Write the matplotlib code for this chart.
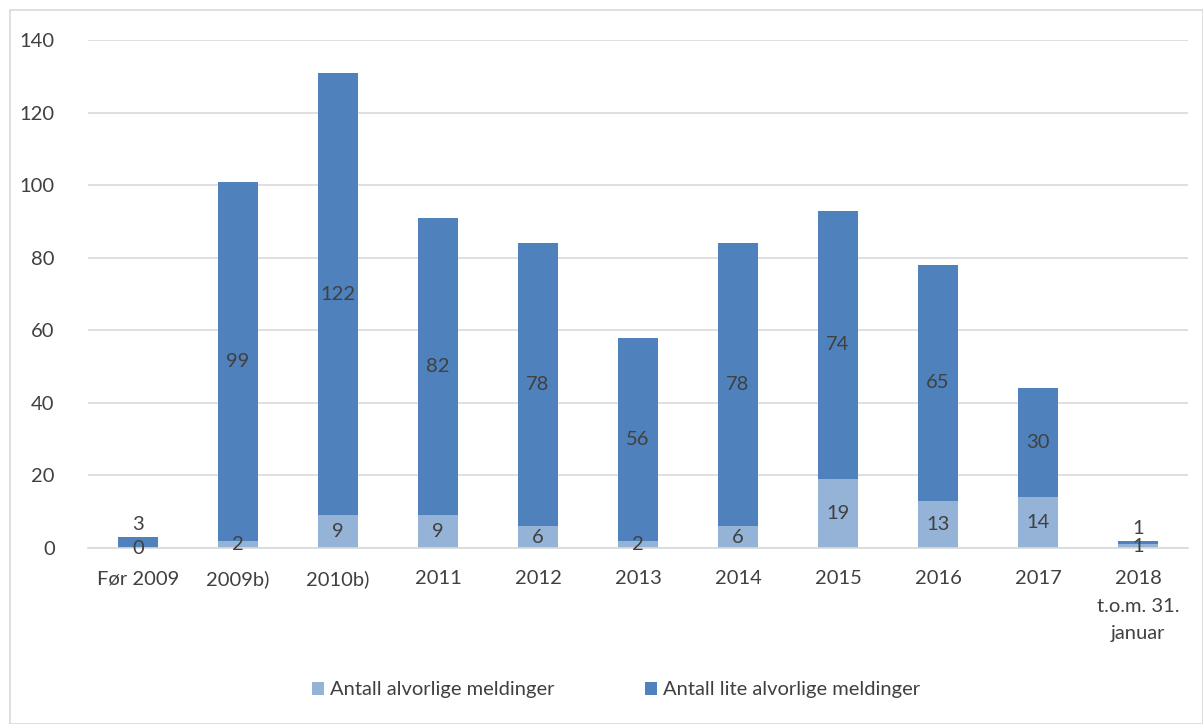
import matplotlib.pyplot as plt
from matplotlib.patches import Rectangle

plt.rcParams['font.family'] = ['Lato', 'DejaVu Sans']

categories = ["Før 2009", "2009b)", "2010b)", "2011", "2012", "2013", "2014",
              "2015", "2016", "2017", "2018\nt.o.m. 31.\njanuar"]
alvorlige = [0, 2, 9, 9, 6, 2, 6, 19, 13, 14, 1]
lite_alvorlige = [3, 99, 122, 82, 78, 56, 78, 74, 65, 30, 1]

light = '#95B3D7'
dark = '#4F81BD'
txt = '#404040'
fs = 14.5

fig = plt.figure(figsize=(12.03, 7.24), dpi=100)
ax = fig.add_axes([88/1203, 1-548/724, 1100/1203, 508/724])

x = range(len(categories))
ax.bar(x, alvorlige, width=0.4, color=light, label='Antall alvorlige meldinger', zorder=2)
ax.bar(x, lite_alvorlige, width=0.4, bottom=alvorlige, color=dark,
       label='Antall lite alvorlige meldinger', zorder=2)

for i in x:
    a = alvorlige[i]
    l = lite_alvorlige[i]
    ax.text(i, a/2, str(a), ha='center', va='center', fontsize=fs, color=txt, zorder=3)
    if l < 5:
        ax.text(i, a + l + 1, str(l), ha='center', va='bottom', fontsize=fs, color=txt, zorder=3)
    else:
        ax.text(i, a + l/2, str(l), ha='center', va='center', fontsize=fs, color=txt, zorder=3)

ax.set_xlim(-0.5, len(categories) - 0.5)
ax.set_ylim(0, 140)
ax.set_yticks(range(0, 141, 20))
ax.set_xticks(list(x))
ax.set_xticklabels(categories, linespacing=1.75)
ax.yaxis.grid(True, color='#D9D9D9', linewidth=1.2, zorder=0)
ax.set_axisbelow(True)
for s in ['top', 'right', 'left']:
    ax.spines[s].set_visible(False)
ax.spines['bottom'].set_color('#D9D9D9')
ax.spines['bottom'].set_linewidth(1.2)
ax.tick_params(axis='both', length=0, labelsize=fs, labelcolor=txt)
ax.tick_params(axis='x', pad=16)
ax.tick_params(axis='y', pad=24)

ax.legend(loc='center', bbox_to_anchor=(0.512, 1-690/724), bbox_transform=fig.transFigure,
          ncol=2, frameon=False, fontsize=fs, labelcolor=txt, handlelength=0.6,
          handleheight=0.6, handletextpad=0.3, columnspacing=4.5)

fig.patches.append(Rectangle((10/1203, 0), 1-10/1203, 1-10/724, transform=fig.transFigure,
                             fill=False, edgecolor='#D9D9D9', linewidth=1.2))

fig.savefig('out.png', dpi=100)
